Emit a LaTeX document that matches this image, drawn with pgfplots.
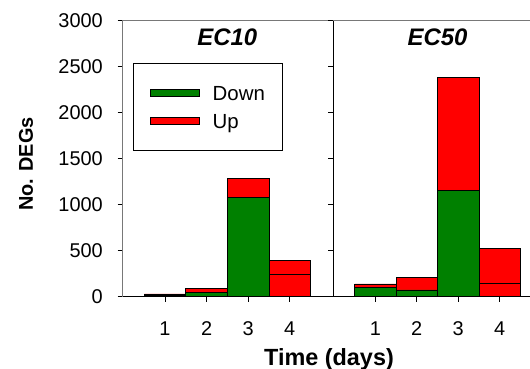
\documentclass[border=0pt]{standalone}
\usepackage{fontspec}
\setmainfont{Liberation Sans}
\usepackage{pgfplots}
\pgfplotsset{compat=1.18}
\definecolor{dgreen}{RGB}{0,128,0}
\definecolor{axgray}{RGB}{120,120,120}
\begin{document}
\begin{tikzpicture}
\path[use as bounding box] (-122.7bp,-72.5bp) rectangle (407.3bp,296.5bp);
\pgfplotsset{
 panel/.style={
  scale only axis, height=276bp, ymin=0, ymax=3000, xmin=-0.02,
  axis x line*=bottom, axis y line*=left,
  ytick={0,500,...,3000}, xtick={1,2,3,4},
  tick align=outside, major tick length=5bp,
  tick style={black, line width=0.6bp},
  /pgf/number format/assume math mode=true,
  /pgf/number format/1000 sep={},
  ticklabel style={font=\fontsize{20}{22}\selectfont, inner sep=0pt},
  yticklabel style={anchor=east, xshift=-14.7bp},
  xticklabel style={anchor=north, yshift=-20bp},
  x axis line style={-, black, line width=0.8bp},
  y axis line style={-, line width=0.8bp},
  clip=false,
 },
 barstyle/.style={ybar, bar width=1, draw=black, line width=0.6bp, forget plot},
}
\begin{axis}[panel, at={(0,0)}, anchor=south west, width=206.3bp, xmax=4.95,
  y axis line style={axgray},
  legend cell align=left,
  legend image code/.code={\draw[#1] (0bp,-3.5bp) rectangle (49bp,3.5bp);},
  legend style={at={(axis description cs:0.0485,0.845)}, anchor=north west,
    draw=black, line width=0.8bp, inner xsep=17bp, inner ysep=22bp,
    font=\fontsize{20.5}{22}\selectfont,
    nodes={inner sep=0pt, text height=15bp, text depth=0bp},
    column sep=13bp, row sep=13.1bp}]
\addlegendimage{fill=dgreen, draw=black, line width=0.6bp}
\addlegendentry{Down}
\addlegendimage{fill=red, draw=black, line width=0.6bp}
\addlegendentry{Up}
% totals (Down + Up)
\addplot[barstyle, fill=red] coordinates {(1,28) (2,89) (3,1285) (4,390)};
% Down
\addplot[barstyle, fill=dgreen] coordinates {(1,10) (2,41) (3,1080)};
\addplot[barstyle, fill=red] coordinates {(4,240)};
\draw[axgray, line width=0.8bp] (rel axis cs:0,1) -- (rel axis cs:1,1);
\node[font=\fontsize{24}{26}\selectfont\bfseries\itshape] at (axis cs:2.5,2820) {EC10};
\end{axis}
\begin{axis}[panel, at={(210.3bp,0)}, anchor=south west, width=197bp, xmax=4.73,
  y axis line style={black}, yticklabels={}]
\addplot[barstyle, fill=red] coordinates {(1,136) (2,205) (3,2380) (4,525)};
\addplot[barstyle, fill=dgreen] coordinates {(1,100) (2,71) (3,1155)};
\addplot[barstyle, fill=red] coordinates {(4,145)};
\draw[axgray, line width=0.8bp] (rel axis cs:0,1) -- (rel axis cs:1,1);
\node[font=\fontsize{24}{26}\selectfont\bfseries\itshape] at (axis cs:2.5,2820) {EC50};
\end{axis}
\node[font=\fontsize{23.5}{25}\selectfont\bfseries, anchor=base] at (206.3bp,-68.5bp) {Time (days)};
\node[font=\fontsize{20}{22}\selectfont\bfseries, rotate=90, anchor=base] at (-89.7bp,132.5bp) {No. DEGs};
\end{tikzpicture}
\end{document}
